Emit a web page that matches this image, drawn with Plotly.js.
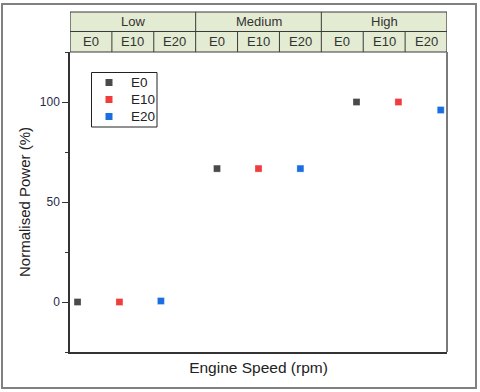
<!DOCTYPE html>
<html>
<head>
<meta charset="utf-8">
<script src="https://cdn.plot.ly/plotly-3.0.1.min.js"></script>
<style>
  html, body { margin: 0; padding: 0; background: #fff; }
  #chart { width: 480px; height: 392px; }
</style>
</head>
<body>
<div id="chart"></div>
<script>
// header categories
var groups = ["Low", "Medium", "High"];
var fuels = ["E0", "E10", "E20"];

// marker positions (column units)
var xE0 = [0.18, 3.51, 6.84];
var xE10 = [1.18, 4.50, 7.84];
var xE20 = [2.17, 5.50, 8.85];

// normalised power (%)
var powerE0 = [0, 66.7, 100];
var powerE10 = [0, 66.7, 100];
var powerE20 = [0.5, 66.7, 96];

var colors = { E0: "#4a4a4a", E10: "#f03c3c", E20: "#1b6ee0" };

function series(name, xs, ys) {
  return {
    x: xs,
    y: ys,
    name: name,
    type: "scatter",
    mode: "markers",
    marker: { symbol: "square", size: 7, color: colors[name],
              line: { width: 0.5, color: "rgba(255,255,255,0.6)" } },
    cliponaxis: false,
    showlegend: false
  };
}

var data = [
  series("E0", xE0, powerE0),
  series("E10", xE10, powerE10),
  series("E20", xE20, powerE20)
];

// pixel -> paper helpers (plot area 70..447 x 52..352)
function px(v) { return (v - 70) / 377; }
function py(v) { return (352 - v) / 300; }

// header table drawn as shapes + annotations
var hTop = py(12), hMid = py(31.5), hBot = 1.0;
var shapes = [];
var annotations = [];
var lineStyle = { color: "#3a3a3a", width: 1 };

shapes.push({ type: "rect", xref: "x", yref: "paper", x0: 0, x1: 9, y0: hBot, y1: hTop,
  fillcolor: "#e3ebd2", line: { color: "#3a3a3a", width: 1.2 }, layer: "below" });
shapes.push({ type: "line", xref: "x", yref: "paper", x0: 0, x1: 9, y0: hMid, y1: hMid, line: lineStyle });

groups.forEach(function (g, gi) {
  if (gi > 0) {
    shapes.push({ type: "line", xref: "x", yref: "paper", x0: gi * 3, x1: gi * 3,
      y0: hBot, y1: hTop, line: lineStyle });
  }
  annotations.push({ x: gi * 3 + 1.5, y: (hMid + hTop) / 2, xref: "x", yref: "paper",
    xanchor: "center", yanchor: "middle",
    text: g, showarrow: false, font: { size: 13, color: "#333" } });
  fuels.forEach(function (f, fi) {
    var k = gi * 3 + fi;
    if (fi > 0) {
      shapes.push({ type: "line", xref: "x", yref: "paper", x0: k, x1: k,
        y0: hBot, y1: hMid, line: lineStyle });
    }
    annotations.push({ x: k + 0.5, y: (hBot + hMid) / 2, xref: "x", yref: "paper",
      xanchor: "center", yanchor: "middle",
      text: f, showarrow: false, font: { size: 13, color: "#333" } });
  });
});

// legend box drawn by hand (Origin style spacing)
shapes.push({ type: "rect", xref: "paper", yref: "paper",
  x0: px(91.5), x1: px(157), y0: py(72.5), y1: py(127),
  line: { color: "#222", width: 1 }, fillcolor: "rgba(255,255,255,0)" });
fuels.forEach(function (f, i) {
  var cy = 82.5 + i * 17;
  shapes.push({ type: "rect", xref: "paper", yref: "paper",
    x0: px(105.5), x1: px(112.5), y0: py(cy + 3.5), y1: py(cy - 3.5),
    fillcolor: colors[f], line: { width: 0 } });
  annotations.push({ x: px(128.5), y: py(cy), xref: "paper", yref: "paper",
    xanchor: "left", yanchor: "middle", text: f, showarrow: false,
    font: { size: 13.5, color: "#222" } });
});

// right side of the plot box (grey)
shapes.push({ type: "line", xref: "paper", yref: "paper", x0: 1, x1: 1, y0: 0, y1: 1,
  line: { color: "#7a7a7a", width: 2 } });
// outer frame
shapes.push({ type: "rect", xref: "paper", yref: "paper", x0: px(2), x1: px(476), y0: py(388), y1: py(4),
  line: { color: "#808080", width: 2 } });

var layout = {
  width: 480,
  height: 392,
  margin: { l: 70, r: 33, t: 52, b: 40 },
  paper_bgcolor: "#fff",
  plot_bgcolor: "#fff",
  font: { family: "Liberation Sans, Arial, sans-serif", color: "#333" },
  showlegend: false,
  xaxis: {
    range: [0, 9],
    showgrid: false, zeroline: false,
    showticklabels: false, ticks: "",
    showline: true, linecolor: "#333", linewidth: 1.5,
    title: { text: "Engine Speed (rpm)", font: { size: 15.5, color: "#222" }, standoff: 9 }
  },
  yaxis: {
    range: [-25, 125],
    tickvals: [0, 50, 100],
    showgrid: false, zeroline: false,
    ticks: "outside", ticklen: 6, tickcolor: "#333", tickwidth: 1,
    minor: { tickvals: [-25, 25, 75, 125], ticks: "outside", ticklen: 3, tickcolor: "#333" },
    showline: true, linecolor: "#333", linewidth: 1.5,
    tickfont: { size: 12, color: "#2a2a4a" },
    title: { text: "Normalised Power (%)", font: { size: 15, color: "#222" }, standoff: 6 }
  },
  shapes: shapes,
  annotations: annotations
};

Plotly.newPlot("chart", data, layout, { displayModeBar: false });
</script>
</body>
</html>
